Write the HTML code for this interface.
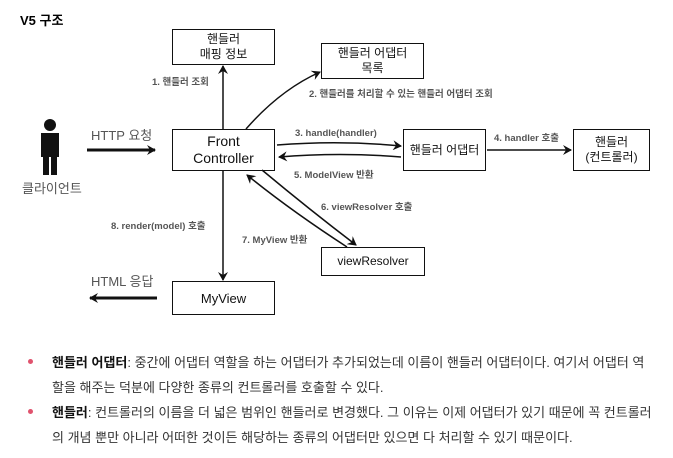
<!DOCTYPE html><html><head><meta charset="utf-8"><style>
body{margin:0;width:673px;height:458px;background:#fff;font-family:"Liberation Sans","Noto Sans CJK KR",sans-serif;position:relative;overflow:hidden}
.b{position:absolute;border:1.5px solid #111;box-sizing:border-box;display:flex;align-items:center;justify-content:center;text-align:center;font-size:12px;line-height:15px;color:#111}
.t{position:absolute;font-size:9.5px;font-weight:bold;color:#555;white-space:nowrap}
.p{position:absolute;left:52px;font-size:13px;color:#333;white-space:nowrap}
.d{position:absolute;left:28px;width:5px;height:5px;border-radius:50%;background:#e0526d}
</style></head><body>
<div style="position:absolute;left:20px;top:10px;font-size:13px;font-weight:bold">V5 구조</div>
<svg width="673" height="330" style="position:absolute;left:0;top:0">
<defs><marker id="a" markerWidth="10" markerHeight="10" refX="8" refY="5" orient="auto" markerUnits="userSpaceOnUse"><path d="M0,0 L9,5 L0,10 L3,5z" fill="#111"/></marker></defs>
<g stroke="#111" stroke-width="1.5" fill="none" marker-end="url(#a)">
<line x1="223" y1="129" x2="223" y2="66"/>
<path d="M246,129 Q280,90 320,72"/>
<line x1="87" y1="150" x2="155" y2="150" stroke-width="3"/>
<path d="M277,145 Q340,140 401,146"/>
<path d="M401,157 Q340,152 279,157"/>
<line x1="487" y1="150" x2="571" y2="150"/>
<line x1="223" y1="171" x2="223" y2="280"/>
<path d="M262,170 Q310,210 356,245"/>
<path d="M347,247 Q290,210 247,175"/>
<line x1="157" y1="298" x2="90" y2="298" stroke-width="3"/>
</g>
<g fill="#111"><circle cx="50" cy="125" r="6"/><rect x="41" y="133" width="18" height="24"/><rect x="43" y="155" width="6" height="20"/><rect x="51" y="155" width="6" height="20"/></g>
</svg>
<div class="b" style="left:172px;top:29px;width:103px;height:36px">핸들러<br>매핑 정보</div>
<div class="b" style="left:321px;top:43px;width:103px;height:36px">핸들러 어댑터<br>목록</div>
<div class="b" style="left:172px;top:129px;width:103px;height:42px;font-size:14px;line-height:17px">Front<br>Controller</div>
<div class="b" style="left:403px;top:129px;width:83px;height:42px">핸들러 어댑터</div>
<div class="b" style="left:573px;top:129px;width:77px;height:42px">핸들러<br>(컨트롤러)</div>
<div class="b" style="left:321px;top:247px;width:104px;height:29px">viewResolver</div>
<div class="b" style="left:172px;top:281px;width:103px;height:34px;font-size:13px">MyView</div>
<div class="t" style="left:152px;top:74px">1. 핸들러 조회</div>
<div class="t" style="left:309px;top:86px">2. 핸들러를 처리할 수 있는 핸들러 어댑터 조회</div>
<div class="t" style="left:295px;top:128px">3. handle(handler)</div>
<div class="t" style="left:494px;top:130px">4. handler 호출</div>
<div class="t" style="left:294px;top:167px">5. ModelView 반환</div>
<div class="t" style="left:321px;top:199px">6. viewResolver 호출</div>
<div class="t" style="left:111px;top:218px">8. render(model) 호출</div>
<div class="t" style="left:242px;top:232px">7. MyView 반환</div>
<div style="position:absolute;left:91px;top:125px;font-size:13px;color:#555">HTTP 요청</div>
<div style="position:absolute;left:22px;top:178px;font-size:13px;color:#555">클라이언트</div>
<div style="position:absolute;left:91px;top:271px;font-size:13px;color:#555">HTML 응답</div>
<div class="d" style="top:359px"></div><div class="p" style="top:352px"><b style="color:#111">핸들러 어댑터</b>: 중간에 어댑터 역할을 하는 어댑터가 추가되었는데 이름이 핸들러 어댑터이다. 여기서 어댑터 역</div>
<div class="p" style="top:377px">할을 해주는 덕분에 다양한 종류의 컨트롤러를 호출할 수 있다.</div>
<div class="d" style="top:409px"></div><div class="p" style="top:402px"><b style="color:#111">핸들러</b>: 컨트롤러의 이름을 더 넓은 범위인 핸들러로 변경했다. 그 이유는 이제 어댑터가 있기 때문에 꼭 컨트롤러</div>
<div class="p" style="top:427px">의 개념 뿐만 아니라 어떠한 것이든 해당하는 종류의 어댑터만 있으면 다 처리할 수 있기 때문이다.</div>
</body></html>
